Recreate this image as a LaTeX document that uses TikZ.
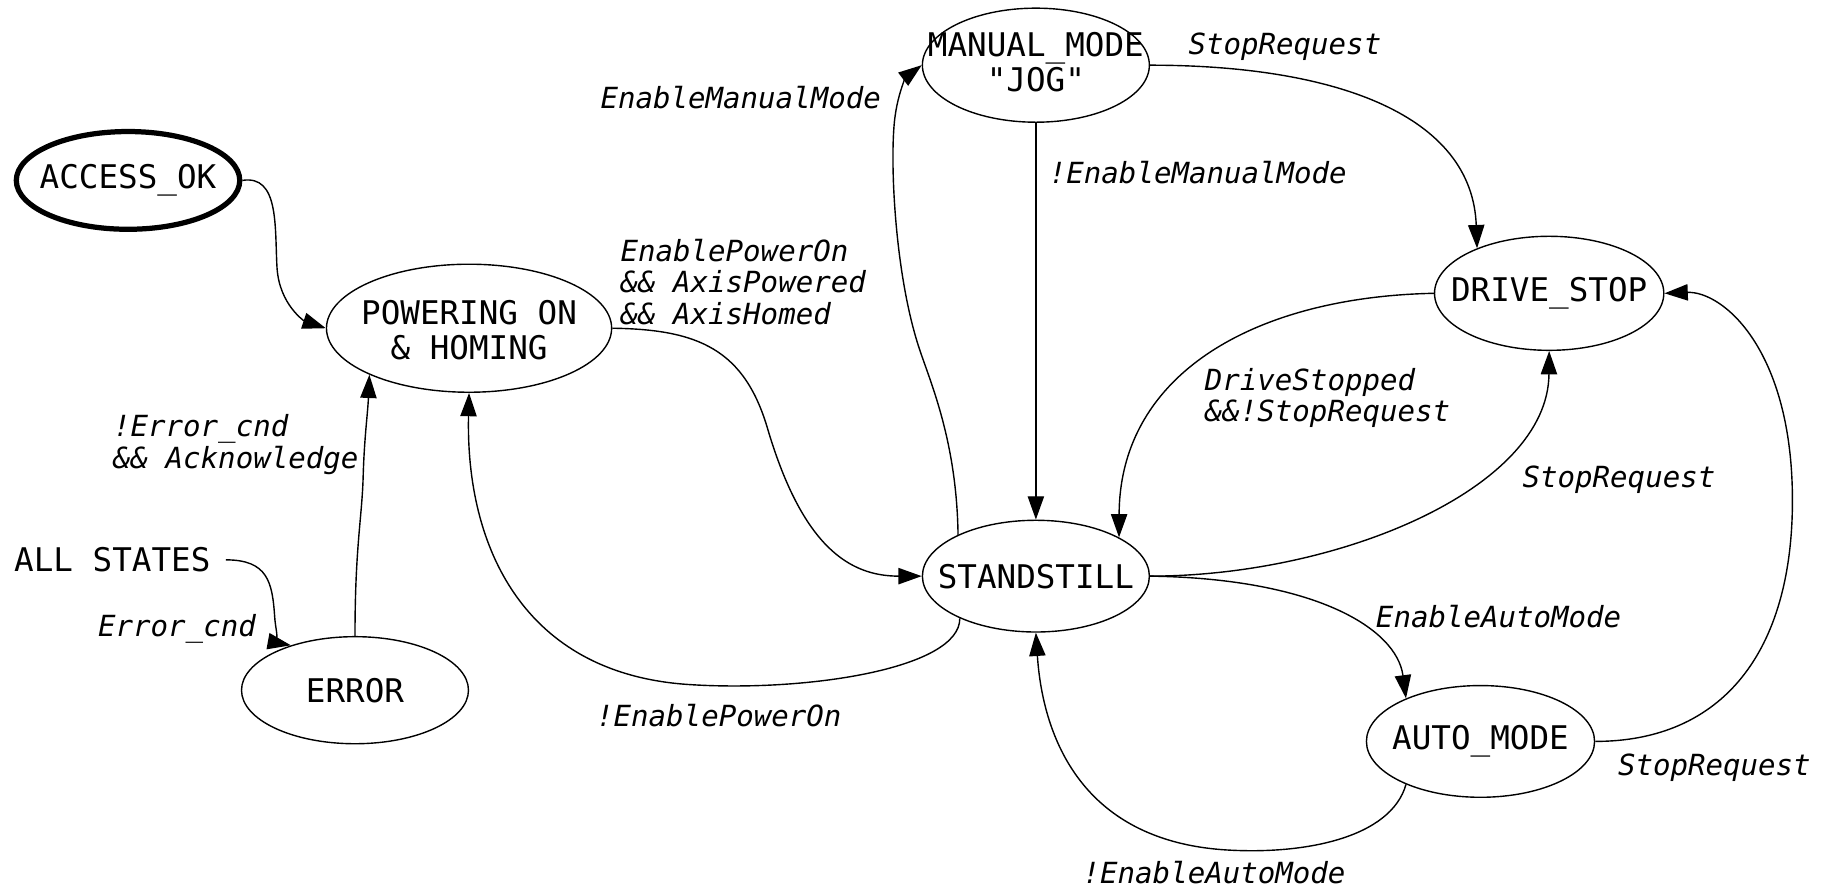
\documentclass[tikz,border=0pt]{standalone}
\usepackage{fontspec}
\setmonofont{DejaVu Sans Mono}
\usetikzlibrary{arrows.meta,shapes.geometric}
\begin{document}
\begin{tikzpicture}[x=1pt,y=-1pt,
  state/.style={ellipse,draw,line width=1.2pt,inner sep=0pt},
  nametext/.style={font=\ttfamily\fontsize{28}{30}\selectfont,inner sep=0pt,align=center},
  cond/.style={font=\ttfamily\itshape\fontsize{25}{27}\selectfont,inner sep=0pt,align=left},
  trans/.style={line width=1.2pt,-{Triangle[length=20pt,width=14pt]}}]
\useasboundingbox (0,0) rectangle (1568,763);

% states
\node[state,line width=4.5pt,minimum width=192pt,minimum height=84pt] (acc) at (110,155) {};
\node[state,minimum width=245pt,minimum height=110pt] (pow) at (403,282) {};
\node[state,minimum width=195pt,minimum height=92pt] (err) at (305,593) {};
\node[state,minimum width=195pt,minimum height=98pt] (man) at (890,56) {};
\node[state,minimum width=197pt,minimum height=98pt] (drv) at (1331,252) {};
\node[state,minimum width=195pt,minimum height=96pt] (std) at (890,495) {};
\node[state,minimum width=196pt,minimum height=96pt] (aut) at (1272,637) {};

% state names
\node[nametext] (acc-t) at (acc) {ACCESS\_OK};
\node[nametext] (pow-t) at (403,284) {POWERING ON\\\& HOMING};
\node[nametext] (err-t) at (err) {ERROR};
\node[nametext] (man-t) at (890,53) {MANUAL\_MODE\\"JOG"};
\node[nametext] (drv-t) at (drv) {DRIVE\_STOP};
\node[nametext] (std-t) at (std) {STANDSTILL};
\node[nametext] (aut-t) at (aut) {AUTO\_MODE};
\node[nametext,anchor=west] (all) at (12,481) {ALL STATES};

% transition conditions
\node[cond,anchor=west] (c-pon) at (533,242) {EnablePowerOn\\\&\& AxisPowered\\\&\& AxisHomed};
\node[cond,anchor=west] (c-ack) at (97,382) {!Error\_cnd\\\&\& Acknowledge};
\node[cond,anchor=east] (c-err) at (220,540) {Error\_cnd};
\node[cond,anchor=west] (c-npon) at (512,615) {!EnablePowerOn};
\node[cond,anchor=east] (c-man) at (757,84) {EnableManualMode};
\node[cond,anchor=west] (c-nman) at (901,148) {!EnableManualMode};
\node[cond,anchor=west] (c-stop1) at (1021,40) {StopRequest};
\node[cond,anchor=west] (c-dstop) at (1035,342) {DriveStopped\\\&\&!StopRequest};
\node[cond,anchor=west] (c-stop2) at (1308,412) {StopRequest};
\node[cond,anchor=west] (c-auto) at (1182,530) {EnableAutoMode};
\node[cond,anchor=west] (c-nauto) at (930,750) {!EnableAutoMode};
\node[cond,anchor=west] (c-stop3) at (1390,660) {StopRequest};

% transitions
\draw[trans] (acc.east) .. controls (240,150) and (236,195) .. (238,230)
  .. controls (240,262) and (262,276) .. (pow.west);
\draw[trans] (pow.east) .. controls (600,283) and (640,300) .. (660,370)
  .. controls (690,470) and (730,495) .. (std.west);
\draw[trans] (std.209) .. controls (825,575) and (690,595) .. (590,588)
  .. controls (450,578) and (400,470) .. (pow.south);
\draw[trans] (err.north) .. controls (305,470) and (311,445) .. (312,410)
  .. controls (313,375) and (316,355) .. (pow.205);
\draw[trans,shorten <=13pt] (all.east) .. controls (230,481) and (234,500) .. (236,530)
  .. controls (237,545) and (242,553) .. (err.145);
\draw[trans] (std.152) .. controls (822,380) and (800,330) .. (790,300)
  .. controls (770,240) and (765,150) .. (768,110)
  .. controls (770,80) and (780,65) .. (man.west);
\draw[trans] (man.south) -- (std.north);
\draw[trans] (man.east) .. controls (1150,56) and (1265,100) .. (drv.148);
\draw[trans] (drv.west) .. controls (1080,255) and (962,320) .. (std.25);
\draw[trans] (std.east) .. controls (1150,495) and (1330,420) .. (drv.south);
\draw[trans] (std.east) .. controls (1130,497) and (1200,540) .. (aut.150);
\draw[trans] (aut.210) .. controls (1195,720) and (1120,735) .. (1050,730)
  .. controls (920,720) and (895,620) .. (std.south);
\draw[trans] (aut.east) .. controls (1480,637) and (1540,560) .. (1540,430)
  .. controls (1540,300) and (1480,250) .. (drv.east);
\end{tikzpicture}
\end{document}
